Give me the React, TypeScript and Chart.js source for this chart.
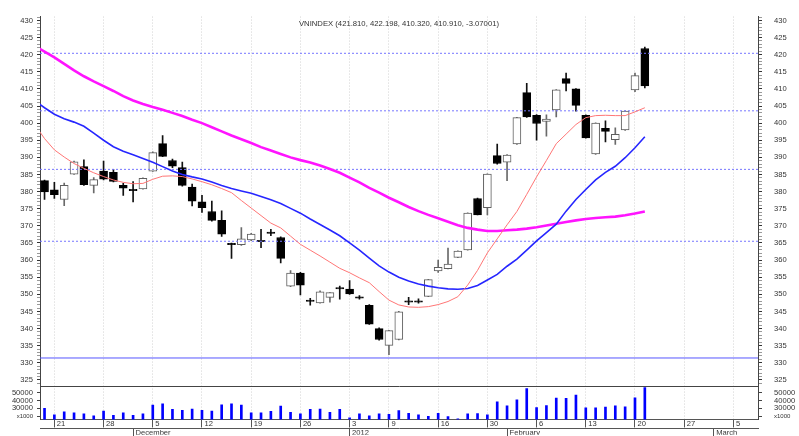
import React, { useEffect, useRef } from 'react';
import { Chart, registerables } from 'chart.js';

Chart.register(...registerables);

// ---- data ----
const dates = [
  '2011-11-18',
  '2011-11-21', '2011-11-22', '2011-11-23', '2011-11-24', '2011-11-25',
  '2011-11-28', '2011-11-29', '2011-11-30', '2011-12-01', '2011-12-02',
  '2011-12-05', '2011-12-06', '2011-12-07', '2011-12-08', '2011-12-09',
  '2011-12-12', '2011-12-13', '2011-12-14', '2011-12-15', '2011-12-16',
  '2011-12-19', '2011-12-20', '2011-12-21', '2011-12-22', '2011-12-23',
  '2011-12-26', '2011-12-27', '2011-12-28', '2011-12-29', '2011-12-30',
  '2012-01-03', '2012-01-04', '2012-01-05', '2012-01-06',
  '2012-01-09', '2012-01-10', '2012-01-11', '2012-01-12', '2012-01-13',
  '2012-01-16', '2012-01-17', '2012-01-18', '2012-01-19', '2012-01-20',
  '2012-01-30', '2012-01-31', '2012-02-01', '2012-02-02', '2012-02-03',
  '2012-02-06', '2012-02-07', '2012-02-08', '2012-02-09', '2012-02-10',
  '2012-02-13', '2012-02-14', '2012-02-15', '2012-02-16', '2012-02-17',
  '2012-02-20', '2012-02-21',
];

const opens = [
  383.2, 380.5, 377.7, 385.1, 387.3, 381.8, 386.0, 385.6, 381.8, 380.7,
  380.8, 386.0, 394.0, 389.1, 387.0, 381.3, 377.0, 374.2, 371.6, 364.9,
  364.5, 365.9, 365.8, 368.2, 366.6, 352.4, 356.2, 348.3, 347.5, 349.1,
  352.0, 351.5, 349.3, 346.8, 340.0, 335.1, 336.8, 348.1, 348.1, 349.4,
  356.8, 357.5, 360.8, 363.0, 378.0, 375.3, 390.5, 388.6, 393.9, 408.9,
  402.3, 400.5, 403.9, 413.0, 410.0, 402.3, 391.0, 398.5, 395.2, 398.0,
  409.7, 421.81,
];
const highs = [
  383.4, 382.7, 382.5, 388.9, 389.3, 384.1, 388.9, 386.5, 382.4, 382.9,
  384.0, 391.6, 396.4, 389.5, 388.6, 382.2, 378.9, 377.2, 374.4, 365.0,
  369.5, 367.8, 369.0, 369.0, 366.8, 356.9, 356.4, 348.8, 351.0, 350.5,
  352.4, 354.0, 349.6, 347.0, 340.2, 339.5, 345.0, 349.1, 348.7, 354.4,
  360.0, 363.5, 362.7, 373.8, 378.1, 385.2, 393.9, 390.8, 401.7, 411.6,
  402.5, 402.4, 409.8, 414.6, 410.1, 402.4, 400.1, 400.7, 398.6, 403.6,
  414.6, 422.198,
];
const lows = [
  377.7, 378.0, 375.9, 385.0, 381.8, 379.6, 383.4, 382.8, 378.9, 377.0,
  380.7, 385.9, 390.2, 387.0, 381.6, 375.8, 373.9, 371.4, 366.9, 360.5,
  364.3, 365.7, 363.6, 367.1, 359.2, 352.2, 349.8, 346.8, 347.4, 347.7,
  348.6, 350.0, 348.6, 341.2, 336.6, 332.4, 336.7, 347.0, 347.4, 349.3,
  356.4, 357.4, 360.7, 362.9, 373.2, 373.2, 388.0, 383.2, 393.8, 401.7,
  395.0, 396.2, 401.8, 409.4, 403.5, 395.6, 390.9, 394.5, 393.8, 397.9,
  409.2, 410.32,
];
const closes = [
  379.9, 379.1, 381.8, 388.7, 382.0, 383.5, 383.6, 383.0, 381.0, 380.3,
  383.9, 391.4, 390.3, 387.4, 381.8, 377.2, 375.3, 371.6, 367.6, 364.5,
  366.2, 367.6, 365.4, 367.8, 360.5, 356.2, 352.7, 347.9, 350.7, 350.5,
  351.6, 350.1, 348.9, 341.3, 336.8, 339.4, 344.9, 347.7, 347.7, 354.3,
  357.9, 358.8, 362.6, 373.7, 373.2, 385.1, 388.2, 390.7, 401.6, 401.8,
  399.9, 401.2, 409.7, 411.6, 405.2, 395.7, 400.0, 397.6, 396.7, 403.5,
  413.9, 410.91,
];
const volumes = [
  29900, 21600, 25400, 24100, 22900, 20400, 26600, 21100, 24100, 21100,
  22900, 34100, 35750, 28600, 27400, 29100, 27400, 26600, 34500, 35750,
  34100, 24100, 24100, 26100, 32900, 24900, 22900, 28600, 29100, 24900,
  28600, 17900, 22900, 20400, 22900, 22400, 27000, 23600, 21600, 19900,
  23600, 19500, 16600, 22900, 23250, 21600, 38250, 33250, 41100, 55400,
  31100, 33600, 43250, 42900, 47000, 30750, 30750, 31600, 33250, 32000,
  43600, 56600,
];
// moving averages: first value is the session before the first visible candle (2011-11-17)
// short moving average (thin salmon)
const maShort = [
  399.6,
  395.5, 392.2, 390.1, 388.2, 386.8, 385.5, 384.4, 383.4, 382.7, 382.3,
  382.4, 383.6, 384.5, 384.6, 384.4, 383.7, 382.9, 382.0, 380.9, 379.7,
  377.4, 375.2, 373.0, 370.8, 369.4, 367.0, 364.6, 362.9, 361.2, 359.4,
  357.6, 356.3, 354.8, 353.4, 350.8, 348.3, 346.9, 346.3, 346.2, 346.4,
  347.0, 347.9, 349.3, 352.7, 357.0, 362.1, 366.2, 370.3, 374.2, 379.2,
  384.3, 389.1, 394.0, 396.8, 399.6, 401.6, 402.2, 402.3, 402.2, 402.2,
  403.3, 404.5,
];
// medium moving average (blue)
const maMid = [
  406.6,
  404.5, 402.6, 401.3, 400.3, 399.1, 397.1, 395.0, 393.1, 391.8, 390.8,
  389.7, 388.6, 387.3, 386.0, 385.0, 384.3, 383.7, 382.8, 381.8, 380.9,
  380.2, 379.5, 378.6, 377.6, 376.5, 375.1, 373.7, 372.0, 370.4, 368.8,
  367.1, 365.0, 362.9, 360.6, 358.3, 356.5, 355.0, 353.9, 353.0, 352.4,
  351.9, 351.6, 351.5, 351.7, 352.6, 354.2, 355.8, 358.2, 360.3, 362.9,
  365.6, 368.0, 370.5, 374.3, 377.7, 380.6, 383.4, 385.6, 387.4, 389.9,
  392.8, 396.0,
];
// long moving average (magenta)
const maLong = [
  422.6,
  420.9, 419.2, 417.3, 415.4, 413.7, 412.2, 410.8, 409.4, 407.9, 406.6,
  405.6, 404.7, 403.9, 403.0, 402.1, 401.0, 400.0, 398.8, 397.6, 396.4,
  395.3, 394.2, 393.0, 392.0, 391.0, 390.0, 389.2, 388.5, 387.6, 386.6,
  385.5, 384.1, 382.7, 381.1, 379.7, 378.2, 376.9, 375.5, 374.3, 373.2,
  372.2, 371.2, 370.2, 369.4, 368.9, 368.5, 368.5, 368.7, 368.9, 369.2,
  369.6, 370.1, 370.6, 371.1, 371.6, 372.0, 372.3, 372.5, 372.7, 373.1,
  373.6, 374.2,
];
const levelLines = [420.4, 403.6, 386.5, 365.5];
const baseLineLevel = 331.4;

const dayTickIndex = [1, 6, 11, 16, 21, 26, 31, 35, 40, 45, 50, 55, 60, 65, 70];
const dayTickLabels = ['21', '28', '5', '12', '19', '26', '3', '9', '16', '30', '6', '13', '20', '27', '5'];
const monthTickIndex = [9, 31, 47, 68];
const monthTickLabels = ['December', '2012', 'February', 'March'];
const volumeTicks = [20000, 30000, 40000, 50000];
const volumeTickLabels = ['x1000', '30000', '40000', '50000'];
const titleText = 'VNINDEX (421.810, 422.198, 410.320, 410.910, -3.07001)';

// ---- axis ranges ----
const X_MIN = -0.46;
const X_MAX = 72.5;
const P_MIN = 323.155;
const P_MAX = 431.135;
const V_MIN = 15750;
const V_MAX = 58500;
const priceTicks: number[] = [];
for (let v = Math.ceil(P_MIN); v <= Math.floor(P_MAX); v++) priceTicks.push(v);

const FONT = '"Liberation Sans", Arial, sans-serif';
const tickFont = { family: FONT, size: 7.6 };

const titlePlugin = {
  id: 'innerTitle',
  afterDraw(chart: any) {
    const { ctx, chartArea } = chart;
    ctx.save();
    ctx.font = `7.7px ${FONT}`;
    ctx.fillStyle = '#333';
    ctx.textAlign = 'center';
    ctx.textBaseline = 'middle';
    ctx.fillText(titleText, (chartArea.left + chartArea.right) / 2, chartArea.top + 7);
    ctx.restore();
  },
};

export default function App() {
  const ref = useRef<HTMLCanvasElement | null>(null);

  useEffect(() => {
    if (!ref.current) return;
    const idx = dates.map((_, i) => i);
    const isUp = (i: number) => closes[i] >= opens[i];
    // MA arrays start one session before the first candle
    const line = (vals: number[]) => vals.map((y, i) => ({ x: i - 1, y }));

    const datasets: any[] = [
      { type: 'line', label: 'MA short', data: line(maShort), borderColor: '#ff7676', borderWidth: 1, pointRadius: 0, xAxisID: 'x', yAxisID: 'y' },
      { type: 'line', label: 'MA mid', data: line(maMid), borderColor: '#2626ff', borderWidth: 1.6, pointRadius: 0, xAxisID: 'x', yAxisID: 'y' },
      { type: 'line', label: 'MA long', data: line(maLong), borderColor: '#ff14ff', borderWidth: 2.6, pointRadius: 0, xAxisID: 'x', yAxisID: 'y' },
      ...levelLines.map((v) => ({
        type: 'line', label: 'level', data: [{ x: X_MIN, y: v }, { x: X_MAX, y: v }],
        borderColor: '#7676ff', borderWidth: 1, borderDash: [2, 2], pointRadius: 0, xAxisID: 'x', yAxisID: 'y',
      })),
      {
        type: 'line', label: 'base', data: [{ x: X_MIN, y: baseLineLevel }, { x: X_MAX, y: baseLineLevel }],
        borderColor: '#5656ff', borderWidth: 1, pointRadius: 0, xAxisID: 'x', yAxisID: 'y',
      },
      {
        type: 'bar', label: 'body', data: idx.map((i) => ({ x: i, y: [opens[i], closes[i]] })),
        backgroundColor: idx.map((i) => (isUp(i) ? '#ffffff' : '#000000')),
        borderColor: idx.map((i) => (isUp(i) ? '#5e5e5e' : '#000000')),
        borderWidth: 1, borderSkipped: false, barThickness: 8, minBarLength: 1.2, grouped: false,
        xAxisID: 'x', yAxisID: 'y',
      },
      {
        type: 'bar', label: 'wick', data: idx.map((i) => ({ x: i, y: [lows[i], highs[i]] })),
        backgroundColor: idx.map((i) => (isUp(i) ? '#6a6a6a' : '#111111')),
        barThickness: 1, grouped: false, xAxisID: 'x', yAxisID: 'y',
      },
      {
        type: 'bar', label: 'volume', data: idx.map((i) => ({ x: i, y: volumes[i] })),
        backgroundColor: '#0000ff', barThickness: 2, grouped: false, xAxisID: 'x', yAxisID: 'yv',
      },
    ];

    const yPrice = (side: 'left' | 'right') => ({
      type: 'linear', position: side, stack: side === 'left' ? 'L' : 'R', stackWeight: 380.5,
      min: P_MIN, max: P_MAX, beginAtZero: false,
      afterBuildTicks: (s: any) => { s.ticks = priceTicks.map((v) => ({ value: v })); },
      afterFit: (s: any) => { s.width = side === 'left' ? 40 : 41; },
      grid: {
        drawOnChartArea: false, drawTicks: true, tickLength: side === 'left' ? 3 : 4,
        tickColor: (c: any) => (c.tick && c.tick.value % 5 === 0 ? '#333' : '#9a9a9a'),
      },
      border: { display: true, color: '#444', width: 1 },
      ticks: {
        autoSkip: false, padding: side === 'left' ? 4 : 12, font: tickFont, color: '#333',
        callback: (v: any) => (v % 5 === 0 ? String(v) : ''),
      },
    });
    const yVol = (side: 'left' | 'right') => ({
      type: 'linear', position: side, stack: side === 'left' ? 'L' : 'R', stackWeight: 34.2,
      min: V_MIN, max: V_MAX, beginAtZero: false,
      afterBuildTicks: (s: any) => { s.ticks = [...volumeTicks, V_MAX].map((v) => ({ value: v })); },
      afterFit: (s: any) => { s.width = side === 'left' ? 40 : 41; },
      grid: {
        drawOnChartArea: side === 'left', drawTicks: true, tickLength: side === 'left' ? 3 : 4,
        color: (c: any) => (c.tick && c.tick.value === V_MAX ? '#444' : 'rgba(0,0,0,0)'),
        tickColor: (c: any) => (c.tick && c.tick.value === V_MAX ? 'rgba(0,0,0,0)' : '#444'),
      },
      border: { display: true, color: '#444', width: 1 },
      ticks: {
        autoSkip: false, padding: side === 'left' ? 4 : 12, color: '#333',
        font: (c: any) => (c.tick && c.tick.value === volumeTicks[0] ? { family: FONT, size: 6 } : tickFont),
        callback: (v: any) => {
          const k = volumeTicks.indexOf(v);
          return k >= 0 ? volumeTickLabels[k] : '';
        },
      },
    });

    const chart = new Chart(ref.current, {
      type: 'bar',
      data: { datasets },
      plugins: [titlePlugin],
      options: {
        animation: false,
        responsive: false,
        maintainAspectRatio: false,
        devicePixelRatio: 1,
        events: [],
        layout: { padding: { top: 6, left: 0, right: 0, bottom: 0 } },
        plugins: { legend: { display: false }, tooltip: { enabled: false }, title: { display: false } },
        scales: {
          x: {
            type: 'linear', position: 'bottom', min: X_MIN, max: X_MAX, offset: false,
            afterBuildTicks: (s: any) => { s.ticks = dayTickIndex.map((v) => ({ value: v })); },
            afterFit: (s: any) => { s.height = 8.6; },
            grid: { offset: false, drawOnChartArea: true, drawTicks: true, tickLength: 8, color: '#d2d2d2', tickColor: '#555', lineWidth: 1 },
            border: { display: true, color: '#555', width: 1, dash: [1, 2] },
            ticks: {
              autoSkip: false, maxRotation: 0, minRotation: 0, align: 'start', labelOffset: 2.5, padding: -8,
              font: tickFont, color: '#333', callback: (_v: any, i: number) => dayTickLabels[i],
            },
          },
          xm: {
            type: 'linear', position: 'bottom', min: X_MIN, max: X_MAX, offset: false,
            afterBuildTicks: (s: any) => { s.ticks = monthTickIndex.map((v) => ({ value: v })); },
            afterFit: (s: any) => { s.height = 6.7; },
            grid: { offset: false, drawOnChartArea: false, drawTicks: true, tickLength: 8, tickColor: '#555' },
            border: { display: true, color: '#555', width: 1 },
            ticks: {
              autoSkip: false, maxRotation: 0, minRotation: 0, align: 'start', labelOffset: 2.5, padding: -8,
              font: tickFont, color: '#333', callback: (_v: any, i: number) => monthTickLabels[i],
            },
          },
          yv: yVol('left'),
          y: yPrice('left'),
          yR: yPrice('right'),
          yvR: yVol('right'),
        } as any,
      } as any,
    } as any);

    return () => chart.destroy();
  }, []);

  return (
    <div style={{ position: 'absolute', left: 0, top: 0, width: 799, height: 436, background: '#fff' }}>
      <canvas ref={ref} width={799} height={436} style={{ display: 'block' }} />
    </div>
  );
}
